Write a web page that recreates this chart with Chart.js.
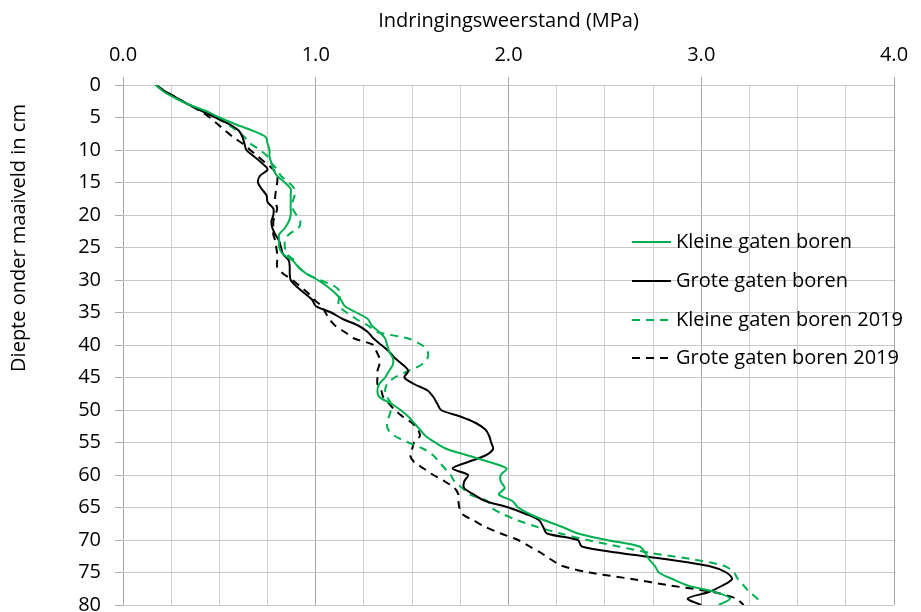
<!DOCTYPE html>
<html>
<head>
<meta charset="utf-8">
<script src="https://cdn.jsdelivr.net/npm/chart.js@4.4.1/dist/chart.umd.min.js"></script>
<style>
  html, body { margin: 0; padding: 0; background: #fff; }
  #wrap { width: 921px; height: 612px; }
</style>
</head>
<body>
<div id="wrap"><canvas id="myChart" width="921" height="612"></canvas></div>
<script>
// diepte (cm) en indringingsweerstand (MPa) per meting
const depth = [
  0, 1, 2, 3, 4, 5, 6, 7, 8, 9, 10, 11, 12, 13, 14, 15, 16, 17, 18, 19, 20,
  21, 22, 23, 24, 25, 26, 27, 28, 29, 30, 31, 32, 33, 34, 35, 36, 37, 38, 39, 40,
  41, 42, 43, 44, 45, 46, 47, 48, 49, 50, 51, 52, 53, 54, 55, 56, 57, 58, 59, 60,
  61, 62, 63, 64, 65, 66, 67, 68, 69, 70, 71, 72, 73, 74, 75, 76, 77, 78, 79, 80,
];
const kleineGaten = [
  0.17, 0.21, 0.27, 0.34, 0.43, 0.5, 0.58, 0.67, 0.74, 0.75, 0.76,
  0.76, 0.77, 0.78, 0.8, 0.84, 0.87, 0.87, 0.87, 0.87, 0.87,
  0.86, 0.84, 0.81, 0.81, 0.81, 0.83, 0.88, 0.91, 0.95, 1.01,
  1.06, 1.1, 1.13, 1.15, 1.21, 1.27, 1.29, 1.33, 1.36, 1.37,
  1.38, 1.4, 1.4, 1.38, 1.36, 1.33, 1.32, 1.33, 1.39, 1.44,
  1.48, 1.51, 1.54, 1.57, 1.62, 1.68, 1.79, 1.9, 1.99, 1.96,
  1.96, 1.98, 1.95, 2.02, 2.05, 2.11, 2.19, 2.28, 2.36, 2.51,
  2.68, 2.71, 2.73, 2.76, 2.78, 2.85, 2.93, 3.07, 3.15, 3.09,
];
const groteGaten = [
  0.17, 0.22, 0.28, 0.34, 0.41, 0.48, 0.55, 0.6, 0.62, 0.63, 0.64,
  0.68, 0.72, 0.75, 0.71, 0.7, 0.72, 0.745, 0.75, 0.78, 0.78,
  0.77, 0.775, 0.79, 0.81, 0.82, 0.83, 0.86, 0.865, 0.865, 0.87,
  0.9, 0.94, 0.98, 1.0, 1.08, 1.14, 1.22, 1.27, 1.3, 1.34,
  1.38, 1.41, 1.45, 1.48, 1.46, 1.51, 1.58, 1.61, 1.63, 1.65,
  1.75, 1.83, 1.88, 1.9, 1.91, 1.92, 1.88, 1.79, 1.71, 1.79,
  1.77, 1.77, 1.82, 1.88, 2.0, 2.09, 2.16, 2.18, 2.2, 2.36,
  2.38, 2.58, 2.83, 3.04, 3.13, 3.16, 3.11, 3.04, 2.93, 3.0,
];
const kleineGaten2019 = [
  0.17, 0.22, 0.28, 0.34, 0.41, 0.48, 0.54, 0.59, 0.63, 0.66, 0.71,
  0.75, 0.77, 0.8, 0.82, 0.86, 0.89, 0.89, 0.88, 0.88, 0.9,
  0.92, 0.91, 0.86, 0.84, 0.84, 0.85, 0.89, 0.91, 0.95, 1.02,
  1.1, 1.13, 1.12, 1.12, 1.16, 1.21, 1.27, 1.32, 1.48, 1.55,
  1.58, 1.58, 1.55, 1.48, 1.41, 1.37, 1.36, 1.37, 1.39, 1.39,
  1.38, 1.37, 1.375, 1.41, 1.48, 1.56, 1.61, 1.64, 1.67, 1.7,
  1.72, 1.76, 1.8, 1.89, 1.91, 1.97, 2.05, 2.15, 2.27, 2.41,
  2.57, 2.74, 2.96, 3.12, 3.17, 3.19, 3.22, 3.25, 3.29, 3.31,
];
const groteGaten2019 = [
  0.17, 0.22, 0.28, 0.34, 0.4, 0.45, 0.49, 0.53, 0.57, 0.62, 0.66,
  0.7, 0.74, 0.78, 0.8, 0.8, 0.795, 0.79, 0.79, 0.8, 0.79,
  0.78, 0.78, 0.78, 0.79, 0.795, 0.8, 0.8, 0.8, 0.83, 0.88,
  0.92, 0.96, 0.99, 1.03, 1.05, 1.07, 1.1, 1.15, 1.2, 1.3,
  1.315, 1.33, 1.33, 1.32, 1.32, 1.32, 1.34, 1.35, 1.38, 1.41,
  1.45, 1.5, 1.53, 1.54, 1.51, 1.5, 1.49, 1.51, 1.56, 1.61,
  1.67, 1.72, 1.74, 1.74, 1.745, 1.76, 1.82, 1.88, 1.96, 2.05,
  2.11, 2.17, 2.22, 2.28, 2.42, 2.64, 2.84, 3.06, 3.18, 3.22,
];
const seriesNames = [
  "Kleine gaten boren",
  "Grote gaten boren",
  "Kleine gaten boren 2019",
  "Grote gaten boren 2019",
];
const mpaTicks = ["0.0", "1.0", "2.0", "3.0", "4.0"];
const yTitle = "Diepte onder maaiveld in cm";

const GREEN = "#00b050";
const FONT = "'Open Sans', sans-serif";
const FONT_SIZE = 20;

const toPoints = (values) => values.map((v, i) => ({ x: v, y: depth[i] }));

const makeSet = (label, values, color, dashed) => ({
  label: label,
  data: toPoints(values),
  borderColor: color,
  backgroundColor: color,
  borderWidth: 2,
  borderDash: dashed ? [8, 6] : [],
  pointRadius: 0,
  tension: 0.3,
  fill: false,
});

// legenda binnen het plotvlak (rechts) + verticale astitel, iets boven het midden
const extras = {
  id: "extras",
  afterDatasetsDraw(chart) {
    const ctx = chart.ctx;
    const rows = [242, 281, 320, 358];
    ctx.save();
    ctx.font = FONT_SIZE + "px " + FONT;
    ctx.textBaseline = "middle";
    ctx.fillStyle = "#000";
    chart.data.datasets.forEach((ds, i) => {
      const y = rows[i];
      ctx.beginPath();
      ctx.strokeStyle = ds.borderColor;
      ctx.lineWidth = 2;
      ctx.setLineDash(ds.borderDash);
      ctx.moveTo(632, y);
      ctx.lineTo(671, y);
      ctx.stroke();
      ctx.setLineDash([]);
      ctx.fillText(ds.label, 676, y);
    });

    ctx.translate(19, 238);
    ctx.rotate(-Math.PI / 2);
    ctx.textAlign = "center";
    ctx.fillText(yTitle, 0, 0);
    ctx.restore();
  },
};

const chartElement = document.getElementById("myChart");
const myChart = new Chart(chartElement, {
  type: "line",
  data: {
    datasets: [
      makeSet(seriesNames[0], kleineGaten, GREEN, false),
      makeSet(seriesNames[1], groteGaten, "#000000", false),
      makeSet(seriesNames[2], kleineGaten2019, GREEN, true),
      makeSet(seriesNames[3], groteGaten2019, "#000000", true),
    ],
  },
  options: {
    responsive: false,
    animation: false,
    indexAxis: "y",
    layout: { padding: { top: 0, left: 0, right: 27, bottom: 7 } },
    plugins: {
      legend: { display: false },
      tooltip: { enabled: false },
    },
    scales: {
      x: {
        type: "linear",
        position: "top",
        min: 0,
        max: 4,
        ticks: {
          stepSize: 0.25,
          autoSkip: false,
          maxRotation: 0,
          padding: 10,
          color: "#000",
          font: { family: FONT, size: FONT_SIZE },
          callback: (v) => (Number.isInteger(v) ? mpaTicks[v] : ""),
        },
        grid: {
          color: (c) => (c.tick && Number.isInteger(c.tick.value) ? "#a6a6a6" : "#d0d0d0"),
          tickColor: (c) => (c.tick && Number.isInteger(c.tick.value) ? "#a6a6a6" : "rgba(0,0,0,0)"),
          tickLength: 8,
          lineWidth: 1,
        },
        border: { display: false },
        title: {
          display: true,
          text: "Indringingsweerstand (MPa)",
          color: "#000",
          font: { family: FONT, size: FONT_SIZE },
          padding: { top: 9, bottom: 0 },
        },
        afterFit: (scale) => {
          scale.height = 85;
        },
      },
      y: {
        type: "linear",
        reverse: true,
        min: 0,
        max: 80,
        ticks: {
          stepSize: 5,
          padding: 14,
          color: "#000",
          font: { family: FONT, size: FONT_SIZE },
        },
        grid: {
          color: "#c8c8c8",
          tickColor: "#b0b0b0",
          tickLength: 8,
          lineWidth: 1,
        },
        border: { display: false },
        title: { display: false },
        afterFit: (scale) => {
          scale.width = 123;
          scale.paddingTop = 0;
          scale.paddingBottom = 0;
        },
      },
    },
  },
  plugins: [extras],
});
</script>
</body>
</html>
